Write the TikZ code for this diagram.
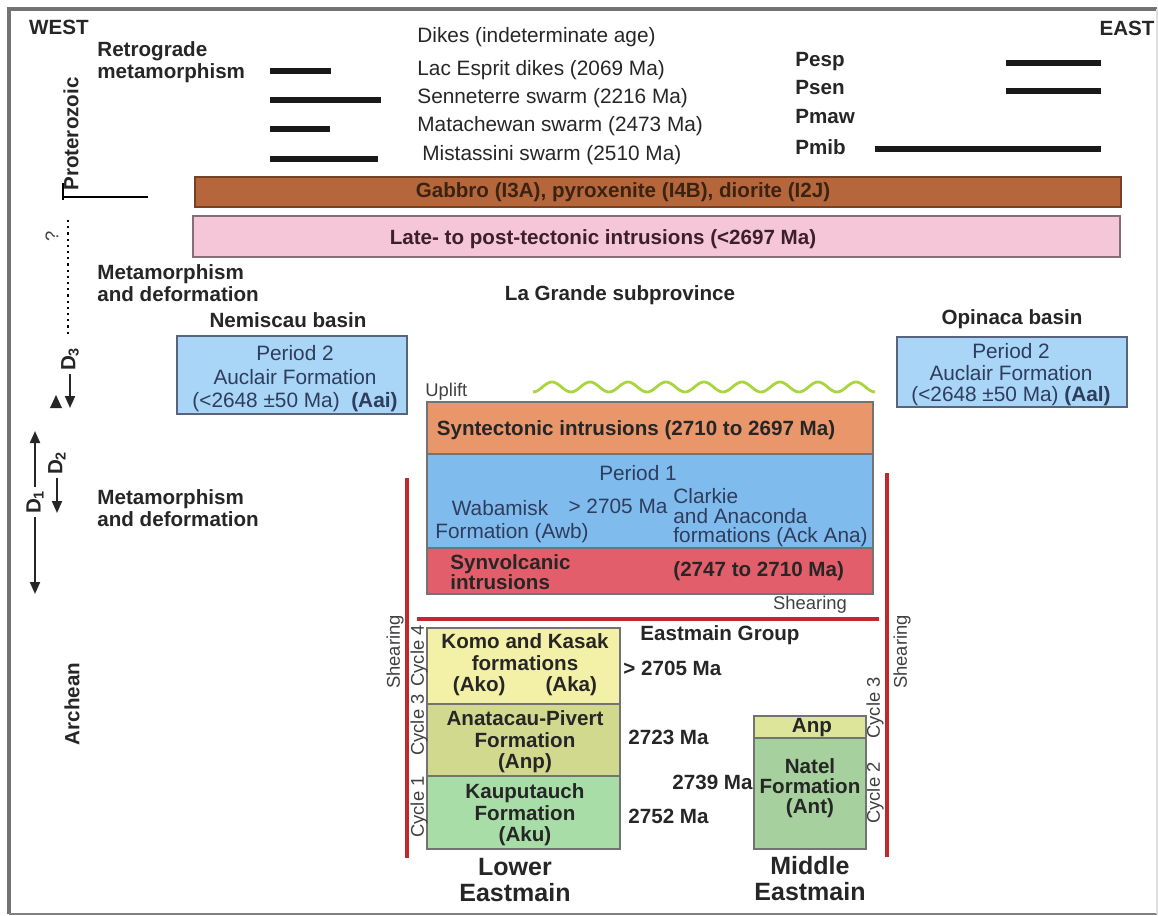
\documentclass[tikz,border=0pt]{standalone}
\usepackage{fontspec}
\setmainfont{Liberation Sans}
\usetikzlibrary{arrows.meta}

\definecolor{gabbro}{HTML}{B5663B}
\definecolor{gabbrotxt}{HTML}{3B2314}
\definecolor{rosa}{HTML}{F4C6D7}
\definecolor{latetxt}{HTML}{3D1F2C}
\definecolor{celeste}{HTML}{A9D5F7}
\definecolor{tinta}{HTML}{2E3D5C}
\definecolor{syntcol}{HTML}{E9966B}
\definecolor{azul}{HTML}{80BBEE}
\definecolor{rojo}{HTML}{E35E6B}
\definecolor{komo}{HTML}{F3F1A7}
\definecolor{anat}{HTML}{D1D98F}
\definecolor{kaup}{HTML}{A8DDA8}
\definecolor{anp}{HTML}{DDE59B}
\definecolor{natel}{HTML}{A7D09F}
\definecolor{corte}{HTML}{C1272D}
\definecolor{onda}{HTML}{A9D53D}

\begin{document}
\begin{tikzpicture}[x=0.5pt, y=-0.5pt,
  lbl/.style={inner sep=0pt, text=black!85, font=\bfseries\fontsize{10.3}{10.8}\selectfont},
  txt/.style={inner sep=0pt, text=black!85, font=\fontsize{10.4}{11}\selectfont},
  chico/.style={inner sep=0pt, text=black!75, font=\fontsize{9.2}{10}\selectfont},
  grande/.style={inner sep=0pt, text=black!85, align=center, font=\bfseries\fontsize{12.5}{13}\selectfont},
  caja/.style={draw=black!55, line width=0.6pt},
  caja2/.style={draw=tinta!80, line width=0.7pt},
  barra/.style={line width=2.6pt, black!90},
  corte/.style={draw=corte, line width=1.6pt},
  flecha/.style={line width=1pt, black!85, -{Triangle[length=6pt, width=5pt]}},
  dlab/.style={lbl, rotate=90, inner sep=1.5pt}]
  \useasboundingbox (0,0) rectangle (1158,916);
  % Marco
  \draw[black!55, line width=2.2pt] (9,914) -- (9,9) -- (1157,9);
  \draw[black!50, line width=1.1pt] (9,914) -- (1157,914);
  \draw[gray!25, line width=0.8pt] (1157,9) -- (1157,914);
  % Oeste y este
  \node[lbl] (west) at (59,27) {WEST};
  \node[lbl] (east) at (1127,28) {EAST};
  % Proterozoico
  \node[lbl, rotate=90] (prot) at (71,134) {Proterozoic};
  \draw[line width=1.4pt] (63,183) -- (63,200);
  \draw[line width=1.4pt] (63,197) -- (148,197);
  \node[lbl, anchor=west, align=left] (retro) at (97,62) {Retrograde\\metamorphism};
  % Diques
  \foreach \x/\y/\t [count=\i] in {417/37/Dikes (indeterminate age),
      417/70/Lac Esprit dikes (2069 Ma), 417/98/Senneterre swarm (2216 Ma),
      417/126/Matachewan swarm (2473 Ma), 422/155/Mistassini swarm (2510 Ma)}
    \node[txt, anchor=west] (dk\i) at (\x,\y) {\t};
  \foreach \y/\l in {71/331, 100/381, 129/330, 159/378}
    \draw[barra] (270,\y) -- (\l,\y);
  \foreach \y/\t [count=\i] in {62/Pesp, 88/Psen, 117/Pmaw, 147/Pmib}
    \node[lbl, anchor=west] (p\i) at (795,\y) {\t};
  \draw[barra] (1006,63) -- (1101,63);
  \draw[barra] (1006,91) -- (1101,91);
  \draw[barra] (875,149) -- (1101,149);
  % Gabro e intrusiones tardias
  \draw[draw=gabbro!65!black, fill=gabbro, line width=0.6pt] (195,177) rectangle (1121,207);
  \node[lbl, text=gabbrotxt] (gabbro) at (623,192) {Gabbro (I3A), pyroxenite (I4B), diorite (I2J)};
  \draw[draw=rosa!55!black, fill=rosa, line width=0.6pt] (193,216) rectangle (1120,257);
  \node[lbl, text=latetxt] (late) at (603,239) {Late- to post-tectonic intrusions (<2697 Ma)};
  % Limite incierto
  \node[chico, rotate=90] (qmark) at (52,236) {?};
  \draw[dotted, line width=1.1pt] (68,220) -- (68,337);
  \node[lbl, anchor=west, align=left] (meta1) at (97,283) {Metamorphism\\and deformation};
  % Deformaciones
  \node[dlab] (d3) at (70,359) {D\textsubscript{3}};
  \coordinate (d3tip) at (70,408);
  \draw[flecha] (d3.west) -- (d3tip);
  \fill[black!85] (50,408) -- (62,408) -- (56,395) -- cycle;
  \node[dlab] (d2) at (57,463) {D\textsubscript{2}};
  \coordinate (d2tip) at (57,513);
  \draw[flecha] (d2.west) -- (d2tip);
  \node[dlab] (d1) at (35,502) {D\textsubscript{1}};
  \coordinate (d1top) at (35,431);
  \coordinate (d1bot) at (35,594);
  \draw[flecha] (d1.east) -- (d1top);
  \draw[flecha] (d1.west) -- (d1bot);
  \node[lbl, anchor=west, align=left] (meta2) at (97,508) {Metamorphism\\and deformation};
  \node[lbl, rotate=90] (arch) at (72,704) {Archean};
  % Cuencas
  \node[lbl] (lagrande) at (620,295) {La Grande subprovince};
  \node[lbl] (nemis) at (288,320) {Nemiscau basin};
  \node[lbl] (opin) at (1012,319) {Opinaca basin};
  \draw[caja2, fill=celeste] (177,336) rectangle (407,414);
  \node[txt, text=tinta, align=center, font=\fontsize{10.4}{11.7}\selectfont] (nem2)
    at (295,379) {Period 2\\Auclair Formation\\(<2648 ±50 Ma)\ \ \textbf{(Aai)}};
  \draw[caja2, fill=celeste] (897,337) rectangle (1127,407);
  \node[txt, text=tinta, align=center, font=\fontsize{10.4}{10.8}\selectfont] (opi2)
    at (1011,375) {Period 2\\Auclair Formation\\(<2648 ±50 Ma) \textbf{(Aal)}};
  % Levantamiento
  \node[chico, anchor=west] (uplift) at (425,392) {Uplift};
  \draw[onda, line width=1.4pt, domain=533:875, samples=180, smooth]
    plot (\x, {387+5*cos(9.4737*(\x-533))});
  % Periodo 1
  \draw[caja, fill=syntcol] (427,402) rectangle (873,454);
  \node[lbl] (synt) at (636,430) {Syntectonic intrusions (2710 to 2697 Ma)};
  \draw[caja, fill=azul] (427,454) rectangle (873,548);
  \node[txt, text=tinta] (per1) at (638,473) {Period 1};
  \node[txt, text=tinta] (wab) at (500,508) {Wabamisk};
  \node[txt, text=tinta] (awb) at (512,533) {Formation (Awb)};
  \node[txt, text=tinta] (age1) at (618,506) {> 2705 Ma};
  \node[txt, text=tinta, anchor=west, align=left, font=\fontsize{10.4}{9.8}\selectfont] (clark)
    at (673,518) {Clarkie\\and Anaconda\\formations (Ack Ana)};
  \draw[caja, fill=rojo] (427,548) rectangle (873,594);
  \node[lbl, anchor=west, align=left, font=\bfseries\fontsize{10.3}{10}\selectfont] (synv)
    at (450,572) {Synvolcanic\\intrusions};
  \node[lbl, anchor=west] (age2) at (673,571) {(2747 to 2710 Ma)};
  % Cizalla
  \node[chico] (shear1) at (810,605) {Shearing};
  \draw[corte] (417,619) -- (879,619);
  \draw[corte] (407,478) -- (407,858);
  \draw[corte] (887,473) -- (887,857);
  \node[chico, rotate=90] (shear2) at (395,652) {Shearing};
  \node[chico, rotate=90] (shear3) at (902,652) {Shearing};
  % Grupo de Eastmain
  \node[lbl] (eastmain) at (720,635) {Eastmain Group};
  \draw[caja, fill=komo] (427,628) rectangle (620,704);
  \draw[caja, fill=anat] (427,704) rectangle (620,776);
  \draw[caja, fill=kaup] (427,776) rectangle (620,849);
  \node[lbl, align=center] (komo) at (525,665) {Komo and Kasak\\formations\\(Ako)\hspace{20pt}(Aka)};
  \node[lbl, align=center] (anat) at (525,742) {Anatacau-Pivert\\Formation\\(Anp)};
  \node[lbl, align=center] (kaup) at (525,815) {Kauputauch\\Formation\\(Aku)};
  \foreach \x/\y/\t [count=\i] in {623/668/> 2705 Ma, 628/737/2723 Ma, 672/782/2739 Ma, 628/816/2752 Ma}
    \node[lbl, anchor=west] (ea\i) at (\x,\y) {\t};
  \foreach \x/\y/\t [count=\i] in {419/656/Cycle 4, 419/725/Cycle 3, 419/807/Cycle 1,
      875/708/Cycle 3, 875/793/Cycle 2}
    \node[chico, rotate=90] (cyc\i) at (\x,\y) {\t};
  \draw[caja, fill=anp] (754,716) rectangle (866,738);
  \draw[caja, fill=natel] (754,738) rectangle (866,849);
  \node[lbl] (anp) at (812,728) {Anp};
  \node[lbl, align=center, font=\bfseries\fontsize{10.3}{10}\selectfont] (natel)
    at (810,788) {Natel\\Formation\\(Ant)};
  \node[grande] (lower) at (515,880) {Lower\\Eastmain};
  \node[grande] (middle) at (810,879) {Middle\\Eastmain};
\end{tikzpicture}
\end{document}
